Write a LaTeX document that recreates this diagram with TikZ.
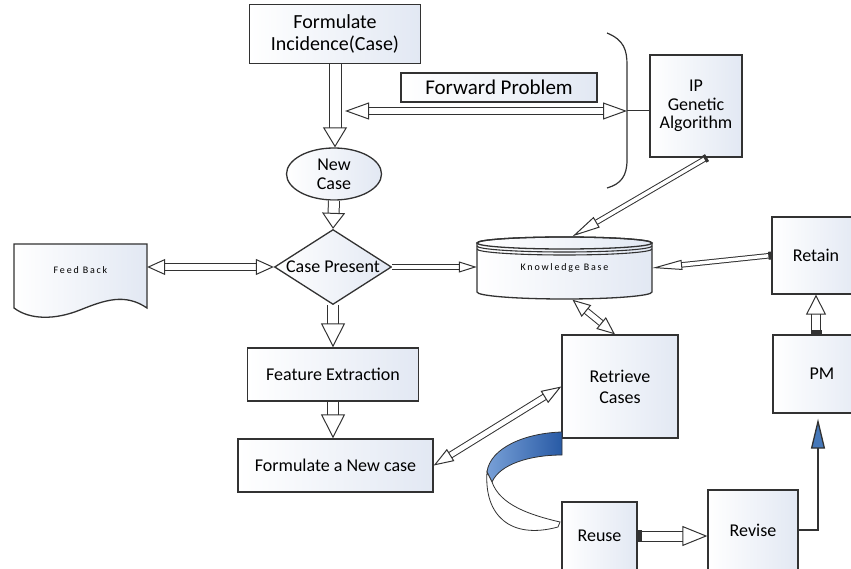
\documentclass[tikz,border=0pt]{standalone}
\usepackage{fontspec}
\setmainfont{Carlito}
\newfontfamily\spacedfont[LetterSpace=18]{Carlito}
\usetikzlibrary{arrows.meta,shapes.geometric}

\definecolor{linec}{RGB}{50,50,50}
\definecolor{boxfill}{RGB}{226,232,243}
\definecolor{ribbonA}{RGB}{120,160,215}
\definecolor{ribbonB}{RGB}{40,90,165}
\definecolor{pmblue}{RGB}{70,120,185}

\begin{document}
\begin{tikzpicture}[x=1pt, y=-1pt,
    box/.style={draw=linec, line width=1.3pt, left color=white, right color=boxfill, align=center, inner sep=0pt, font=\fontsize{18}{21}\selectfont},
    tiny/.style={font=\spacedfont\fontsize{10}{12}\selectfont},
    hol/.style={draw=linec, line width=1pt, double=white, double distance=#1},
    hd/.style 2 args={-{Triangle[open, line width=1pt, length=#1, width=#2]}},
    hdd/.style 2 args={{Triangle[open, line width=1pt, length=#1, width=#2]}-{Triangle[open, line width=1pt, length=#1, width=#2]}}]
    \path[use as bounding box, clip] (0,0) rectangle (851,569);

    % left column
    \node[box, minimum width=171pt, minimum height=59pt, font=\fontsize{20}{22}\selectfont] (inc) at (335,34) {Formulate\\Incidence(Case)};
    \node[box, ellipse, minimum width=95pt, minimum height=52pt, font=\fontsize{18}{19}\selectfont] (newc) at (334,174) {New\\Case};
    \node[box, diamond, aspect=1.56, minimum width=117pt, minimum height=75pt, label={[font=\fontsize{18}{21}\selectfont]center:Case Present}] (cp) at (333,267) {};
    \node[box, minimum width=171pt, minimum height=53pt] (fe) at (333,374.5) {Feature Extraction};
    \node[box, minimum width=195pt, minimum height=53pt] (fn) at (335.5,465.5) {Formulate a New case};

    % feed back document
    \shade[left color=white, right color=boxfill, draw=linec, line width=1.3pt] (14,244) -- (147,244) -- (147,308)
        .. controls (125,293) and (105,300) .. (80,310) .. controls (55,320) and (30,320) .. (14,308) -- cycle;
    \node[tiny, minimum width=133pt, minimum height=50pt] (fb) at (80.5,270) {Feed Back};

    % top
    \node[box, minimum width=196pt, minimum height=29pt, font=\fontsize{21}{23}\selectfont] (fwd) at (499,87.5) {Forward Problem};
    \node[box, minimum width=92pt, minimum height=102pt, font=\fontsize{18}{18.5}\selectfont] (ip) at (696,106) {IP\\Genetic\\Algorithm};
    \draw[linec, line width=1.2pt] (607,33) .. controls (624,40) and (627,50) .. (627,65) -- (627,160)
        .. controls (627,176) and (621,184) .. (607,188);

    % knowledge base
    \shade[left color=white, right color=boxfill, draw=linec, line width=1.3pt] (477,243) -- (477,292)
        arc[start angle=180, end angle=0, x radius=87.5, y radius=7] -- (652,243)
        arc[start angle=0, end angle=-180, x radius=87.5, y radius=6] -- cycle;
    \draw[linec, line width=1.3pt] (564.5,243) ellipse [x radius=87.5, y radius=6];
    \draw[linec, line width=1.1pt] (477,246) arc[start angle=180, end angle=0, x radius=87.5, y radius=6];
    \draw[linec, line width=1.1pt] (477,249) arc[start angle=180, end angle=0, x radius=87.5, y radius=6];
    \node[tiny, minimum width=175pt, minimum height=63pt] (kb) at (564.5,268) {Knowledge Base};

    % right side
    \node[box, minimum width=88pt, minimum height=77pt] (ret) at (816,255.5) {Retain};
    \node[box, minimum width=98pt, minimum height=78pt] (pm) at (822,374) {PM};
    \node[box, minimum width=116pt, minimum height=103pt] (rc) at (620,386.5) {Retrieve\\Cases};
    \node[box, minimum width=75pt, minimum height=68pt] (ru) at (599.5,536) {Reuse};
    \node[box, minimum width=90pt, minimum height=80pt] (rv) at (753,530) {Revise};

    % curved ribbon
    \shade[left color=ribbonA, right color=ribbonB, draw=linec, line width=0.8pt] (562,432)
        .. controls (525,433) and (490,448) .. (487,472) -- (492,482)
        .. controls (500,464) and (530,455) .. (562,455) -- cycle;
    \draw[fill=white, draw=linec, line width=0.8pt] (487,472) .. controls (484,515) and (510,540) .. (558,527)
        -- (560,522) .. controls (530,515) and (500,505) .. (492,482) -- cycle;

    % connectors
    \draw[hol=11pt, hd={20pt}{24pt}] (inc.south) -- (inc.south |- newc.north);
    \draw[hol=10pt, hd={16pt}{23pt}] (newc.south) -- (cp.north);
    \draw[hol=10pt, hd={24pt}{24pt}] (cp.south) -- (fe.north);
    \draw[hol=10pt, hd={24pt}{24pt}] (fe.south) -- (fe.south |- fn.north);
    \draw[hol=6pt, hdd={18pt}{16pt}] (fb.east |- cp.west) -- (cp.west);
    \draw[hol=4pt, hd={18pt}{11pt}] (cp.east) -- (kb.west |- cp.east);
    \coordinate (fpl) at (345,111);
    \coordinate (fpr) at (627,111);
    \draw[hol=6pt, hdd={24pt}{17pt}] (fpl) -- (fpr);
    \draw[linec, line width=1pt] (fpr) -- (ip.west |- fpr);
    \draw[hol=3.5pt, {Rectangle[length=3pt, width=8pt]}-{Triangle[open, line width=1pt, length=28pt, width=12pt]}] ([xshift=11pt]ip.south) -- ([xshift=8pt]kb.north);
    \draw[hol=3.5pt, {Rectangle[length=3pt, width=8pt]}-{Triangle[open, line width=1pt, length=30pt, width=10pt]}] (ret.west) -- (kb.east);
    \draw[hol=8pt, {Rectangle[length=4pt, width=11pt]}-{Triangle[open, line width=1pt, length=20pt, width=20pt]}] (ret.south |- pm.north) -- (ret.south);
    \draw[hol=5pt, hdd={18pt}{15pt}] ([xshift=8pt]kb.south) -- ([xshift=-5pt]rc.north);
    \draw[hol=5pt, hdd={20pt}{14pt}] (fn.east) -- (rc.west);
    \draw[hol=9pt, {Rectangle[length=4pt, width=12pt]}-{Triangle[open, line width=1pt, length=25pt, width=20pt]}] (ru.east) -- (rv.west |- ru.east);
    \draw[linec, line width=1.3pt, -{Triangle[length=30pt, width=14pt, fill=pmblue]}, shorten >=5pt] (rv.east) -| ([xshift=-4pt]pm.south);
\end{tikzpicture}
\end{document}
